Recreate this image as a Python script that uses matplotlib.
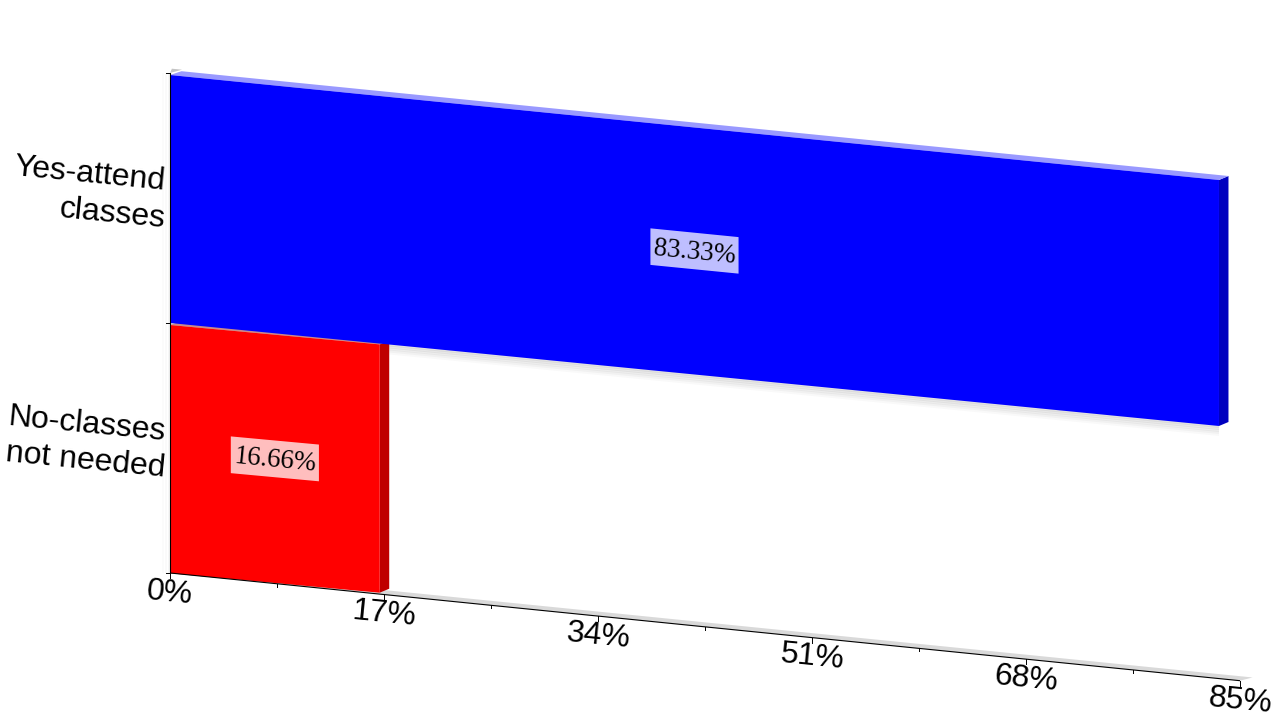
import numpy as np
import matplotlib
matplotlib.use("Agg")
import matplotlib.pyplot as plt
from matplotlib.patches import Polygon
from matplotlib.transforms import Transform, Affine2D

categories = ["No-classes\nnot needed", "Yes-attend\nclasses"]
values = [16.66, 83.33]
value_labels = ["16.66%", "83.33%"]
bar_colors = ["#ff0000", "#0000ff"]
side_colors = ["#bf0000", "#0000bf"]
top_colors = ["#c98a8a", "#9999ff"]
x_ticks = [0, 17, 34, 51, 68, 85]
x_minor = [8.5, 25.5, 42.5, 59.5, 76.5]
x_labels = ["0%", "17%", "34%", "51%", "68%", "85%"]

XS = 1070 / 85
ANGLE = -5.6


class Oblique(Transform):
    """Data (percent, band height 0..1) to figure pixels, with receding depth."""
    input_dims = output_dims = 2

    def __init__(self, y0, slope, h0, hk=0.0):
        super().__init__()
        self.p = (y0, slope, h0, hk)

    def transform_non_affine(self, v):
        v = np.asarray(v, float)
        y0, s, h0, hk = self.p
        return np.c_[170 + XS * v[:, 0], y0 + s * v[:, 0] - v[:, 1] * (h0 + hk * v[:, 0])]


fig = plt.figure(figsize=(12.8, 7.2), dpi=100, facecolor="white")
ax = fig.add_axes([0, 0, 1, 1])
ax.set_xlim(0, 1280)
ax.set_ylim(720, 0)
ax.axis("off")
inv = ax.transData.inverted()

axis_t = Oblique(573, 1.267, 500) + ax.transData
bar_ts = [Oblique(573.3, 1.165, 248.3) + ax.transData,
          Oblique(323, 1.236, 248, -0.024) + ax.transData]
DX, DY = 9.5, -4


def offset(t, dx, dy):
    """Shift a transform by dx pixels right and dy pixels down."""
    return t + Affine2D().translate(dx, -dy)


# Floor and back edge of the plot box
ax.add_patch(Polygon([(0, 0), (85, 0), (86, 0.009), (1, 0.009)], closed=True, fc="#d9d9d9", ec="none",
                     transform=axis_t, zorder=1))
ax.add_patch(Polygon([(0, 1), (0.95, 1.009), (0.15, 1.009)], closed=True, fc="#c4c4c4", ec="none",
                     transform=axis_t, zorder=1))

# Soft shadow under the blue bar and beside the axis
for i, a in zip([10, 8, 6, 4, 2], [0.025, 0.03, 0.04, 0.05, 0.06]):
    ax.add_patch(Polygon([(0, 0), (values[1], 0), (values[1], 0.02), (0, 0.02)], closed=True,
                         fc="black", alpha=a, ec="none", transform=offset(bar_ts[1], 0, i), zorder=1.5))
for i, a in zip([8, 5, 2], [0.015, 0.02, 0.03]):
    ax.add_patch(Polygon([(0, 0), (0, 1), (0.16, 1), (0.16, 0)], closed=True,
                         fc="black", alpha=a, ec="none", transform=offset(axis_t, -i, 0), zorder=1.5))

# Bars: front, side and top faces
for v, t, c, sc, tc in zip(values, bar_ts, bar_colors, side_colors, top_colors):
    f = offset(t, DX, DY)
    p0 = t.transform([(v, 0), (v, 1)])
    p1 = f.transform([(v, 1), (v, 0)])
    ax.add_patch(Polygon(inv.transform(np.vstack([p0, p1])), closed=True, fc=sc, ec="none", zorder=2))
    q0 = t.transform([(0, 1), (v, 1)])
    q1 = f.transform([(v, 1), (0.16, 1)])
    ax.add_patch(Polygon(inv.transform(np.vstack([q0, q1])), closed=True, fc=tc, ec="none", zorder=2))
    ax.add_patch(Polygon([(0, 0), (v, 0), (v, 1), (0, 1)], closed=True, fc=c, ec="none", transform=t, zorder=3))

# Axes lines and ticks
ax.plot([0, 85], [0, 0], color="black", lw=0.8, transform=axis_t, zorder=4, solid_capstyle="butt")
ax.plot([0, 0], [0, 1], color="black", lw=0.8, transform=axis_t, zorder=4, solid_capstyle="butt")
for tk in x_ticks:
    p = inv.transform(axis_t.transform([(tk, 0)]))[0]
    ax.plot([p[0], p[0]], [p[1], p[1] + 5], color="black", lw=0.7, zorder=2.5)
for tk in x_minor:
    p = inv.transform(axis_t.transform([(tk, 0)]))[0]
    ax.plot([p[0], p[0]], [p[1], p[1] + 3], color="black", lw=0.7, zorder=2.5)
for frac in [0, 0.5, 1]:
    p = inv.transform(axis_t.transform([(0, frac)]))[0]
    ax.plot([p[0] - 4, p[0]], [p[1], p[1]], color="black", lw=0.7, zorder=4)

# Tick labels
for tk, lab in zip(x_ticks, x_labels):
    p = inv.transform(axis_t.transform([(tk, 0)]))[0]
    ax.text(p[0], p[1] + 20, lab, family="Liberation Sans", fontsize=23, rotation=ANGLE,
            rotation_mode="anchor", ha="center", va="center", color="black", zorder=5)
for frac, lab in zip([0.25, 0.75], categories):
    p = inv.transform(axis_t.transform([(0, frac)]))[0]
    for dy, line in zip([-16, 21], lab.split("\n")):
        ax.text(p[0] - 5, p[1] + dy, line, family="Liberation Sans", fontsize=23, rotation=ANGLE,
                rotation_mode="anchor", ha="right", va="center", color="black", zorder=5)

# Data labels: a sheared white plate with the text on it
BOX_W, BOX_H = 7.0, 0.074
for v, t, lab in zip(values, bar_ts, value_labels):
    cx, cy = v / 2, 0.5
    ax.add_patch(Polygon([(cx - BOX_W / 2, cy - BOX_H), (cx + BOX_W / 2, cy - BOX_H),
                          (cx + BOX_W / 2, cy + BOX_H), (cx - BOX_W / 2, cy + BOX_H)], closed=True,
                         fc="white", alpha=0.75, ec="none", transform=t, zorder=5))
    ax.text(cx, cy, lab, transform=offset(t, 0, 2), family="Liberation Serif", fontsize=19.4, rotation=ANGLE,
            rotation_mode="anchor", ha="center", va="center", color="black", zorder=6)

fig.savefig("out.png", dpi=100)
